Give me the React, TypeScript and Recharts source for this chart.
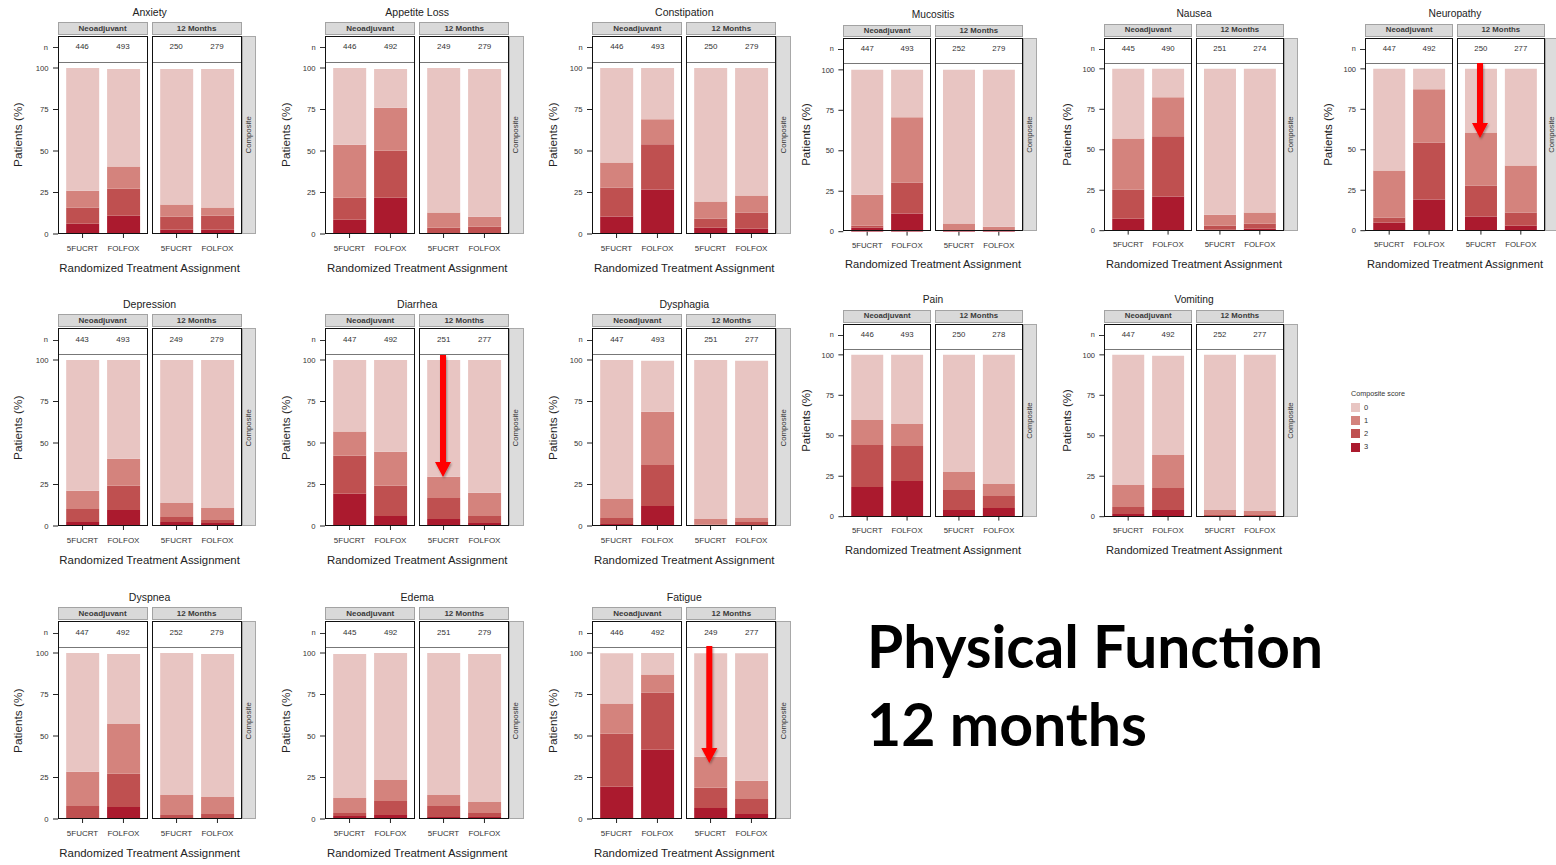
import React from "react";
import { BarChart, Bar, XAxis, YAxis } from "recharts";

const FONT = "'Liberation Sans', Arial, Helvetica, sans-serif";

const SYMPTOMS = [
  "Anxiety", "Appetite Loss", "Constipation", "Mucositis", "Nausea", "Neuropathy",
  "Depression", "Diarrhea", "Dysphagia", "Pain", "Vomiting",
  "Dyspnea", "Edema", "Fatigue",
];
const TIMEPOINTS = ["Neoadjuvant", "12 Months"];
const ARMS = ["5FUCRT", "FOLFOX"];
const SCORES = ["0", "1", "2", "3"];
const SCORE_COLORS = ["#e8c5c2", "#d4837d", "#bf5050", "#ab1a2e"];
const Y_TICKS = [0, 25, 50, 75, 100];

// every row: Neo 5FUCRT, Neo FOLFOX, 12mo 5FUCRT, 12mo FOLFOX
const N_COUNTS = [
  [446, 493, 250, 279], [446, 492, 249, 279], [446, 493, 250, 279],
  [447, 493, 252, 279], [445, 490, 251, 274], [447, 492, 250, 277],
  [443, 493, 249, 279], [447, 492, 251, 277], [447, 493, 251, 277],
  [446, 493, 250, 278], [447, 492, 252, 277],
  [447, 492, 252, 279], [445, 492, 251, 279], [446, 492, 249, 277],
];

// % of patients with composite score 3 (bottom of the stack)
const SCORE_3 = [
  [6.2, 11.0, 2.6, 2.6], [8.6, 21.9, 0.6, 0.6], [10.5, 26.8, 3.8, 3.2],
  [2.5, 11.2, 0.6, 0.6], [7.4, 21.1, 0.6, 1.2], [5.0, 19.2, 8.7, 3.1],
  [2.4, 9.7, 2.4, 1.8], [19.4, 6.0, 4.2, 1.8], [1.2, 12.1, 0.6, 0.6],
  [18.4, 22.1, 4.1, 5.4], [1.6, 4.1, 0.4, 0.4],
  [0.6, 7.2, 0.6, 0.6], [1.8, 2.4, 1.2, 1.2], [19.4, 41.7, 6.7, 3.0],
];
const SCORE_2 = [
  [9.7, 16.3, 7.8, 8.4], [13.3, 28.3, 3.2, 3.8], [17.5, 27.2, 5.5, 9.7],
  [1.2, 19.2, 0.2, 0.2], [18.0, 37.2, 2.5, 3.1], [3.1, 35.3, 19.2, 8.1],
  [7.9, 14.5, 3.0, 1.8], [22.9, 18.2, 12.7, 4.2], [3.6, 24.7, 0.2, 1.8],
  [25.9, 21.6, 12.4, 7.4], [4.4, 13.6, 0.6, 0.6],
  [7.2, 20.0, 1.8, 2.4], [1.8, 8.5, 6.6, 2.4], [32.0, 34.5, 12.1, 9.1],
];
const SCORE_1 = [
  [10.2, 13.3, 7.3, 4.9], [31.9, 25.9, 9.1, 6.0], [15.1, 15.2, 10.3, 10.3],
  [19.2, 40.3, 4.2, 2.3], [31.6, 24.1, 6.8, 6.9], [29.1, 32.9, 32.8, 29.1],
  [10.9, 16.3, 8.5, 7.3], [14.6, 20.6, 12.7, 14.0], [11.5, 32.0, 3.4, 2.4],
  [15.5, 13.6, 11.1, 7.4], [13.6, 20.4, 3.1, 2.5],
  [20.6, 30.1, 12.1, 10.3], [9.1, 12.6, 6.7, 6.7], [18.2, 10.9, 18.7, 10.9],
];
const SCORE_0 = [
  [73.9, 58.8, 81.7, 83.5], [46.2, 23.3, 87.1, 89.0], [56.9, 30.8, 80.4, 76.8],
  [77.1, 29.3, 95.0, 96.9], [43.0, 17.6, 90.1, 88.8], [62.8, 12.6, 39.3, 59.7],
  [78.8, 59.5, 86.1, 89.1], [43.1, 55.2, 70.4, 80.0], [83.7, 30.8, 95.8, 94.8],
  [40.2, 42.7, 72.4, 79.8], [80.4, 61.3, 95.9, 96.5],
  [71.6, 42.1, 85.5, 86.1], [86.7, 76.5, 85.5, 89.1], [30.2, 12.9, 62.3, 76.8],
];

// where each small multiple sits: left edge of first facet, top of strip, scale
const PANELS = [
  { x: 57.6, y: 22, s: 1 }, { x: 325.2, y: 22, s: 1 }, { x: 592.3, y: 22, s: 1 },
  { x: 843.3, y: 24.5, s: 0.975 }, { x: 1104.3, y: 24.3, s: 0.975 }, { x: 1365.3, y: 24.3, s: 0.975 },
  { x: 57.6, y: 314.3, s: 1 }, { x: 325.2, y: 314.3, s: 1 }, { x: 592.3, y: 314.3, s: 1 },
  { x: 843.3, y: 310.3, s: 0.975 }, { x: 1104.3, y: 310.3, s: 0.975 },
  { x: 57.6, y: 607.3, s: 1 }, { x: 325.2, y: 607.3, s: 1 }, { x: 592.3, y: 607.3, s: 1 },
];

// red call-out arrows (shaft top, tip)
const ARROWS = [
  { x: 1480, y1: 63, y2: 138 },
  { x: 443, y1: 355, y2: 477 },
  { x: 709.3, y1: 646, y2: 763 },
];

function Txt({ cx, cy, size, w = 220, color = "#333", bold = false, rotate = false, children }: any) {
  return (
    <div
      style={{
        position: "absolute", left: cx - w / 2, top: cy - size, width: w, height: size * 2,
        lineHeight: `${size * 2}px`, textAlign: "center", fontSize: size, fontFamily: FONT,
        fontWeight: bold ? 700 : 400, color, whiteSpace: "nowrap",
        transform: rotate ? "rotate(-90deg)" : undefined,
      }}
    >
      {children}
    </div>
  );
}

function Panel({ i, x, y, s }: { i: number; x: number; y: number; s: number }) {
  const fw = 90 * s;
  const gap = 4 * s;
  const totalW = 2 * fw + gap;
  const boxTop = y + 14 * s;
  const sepY = y + 40 * s;
  const y0 = y + 212 * s;
  const plotH = y0 - sepY;
  const yMax = (100 * plotH) / (166 * s);
  const axisW = 30 * s;
  const xAxisH = 26 * s;
  const pad = fw * 0.0455;
  const nY = y + 25.3 * s;

  return (
    <>
      <Txt cx={x + totalW / 2} cy={y - 10 * s} size={10.5 * s} color="#222">{SYMPTOMS[i]}</Txt>
      <Txt cx={x - 38.6 * s} cy={y + 113 * s} size={11.8 * s} color="#222" rotate>Patients (%)</Txt>
      <Txt cx={x + totalW / 2} cy={y + 246 * s} size={11.4 * s} color="#222">Randomized Treatment Assignment</Txt>

      {/* n row label */}
      <Txt cx={x - 11.7 * s} cy={nY} size={7.5 * s} w={20}>n</Txt>
      <div style={{ position: "absolute", left: x - 5 * s, top: nY, width: 5 * s, height: 1, background: "#333" }} />

      {TIMEPOINTS.map((tp, f) => {
        const left = x + f * (fw + gap);
        const data = ARMS.map((arm, a) => {
          const k = f * 2 + a;
          return { arm, s3: SCORE_3[i][k], s2: SCORE_2[i][k], s1: SCORE_1[i][k], s0: SCORE_0[i][k] };
        });
        return (
          <React.Fragment key={tp}>
            <div
              style={{
                position: "absolute", left, top: y, width: fw, height: 13 * s, boxSizing: "border-box",
                background: "#d9d9d9", border: "1px solid #a3a3a3", textAlign: "center",
                fontFamily: FONT, fontWeight: 700, fontSize: 8 * s, lineHeight: `${13 * s - 2}px`, color: "#3a3a3a",
              }}
            >
              {tp}
            </div>

            <div style={{ position: "absolute", left: f === 0 ? left - axisW : left, top: sepY }}>
              <BarChart
                width={fw + (f === 0 ? axisW : 0)}
                height={plotH + xAxisH}
                data={data}
                margin={{ top: 0, right: 0, bottom: 0, left: 0 }}
                barCategoryGap="10%"
              >
                <XAxis
                  dataKey="arm"
                  interval={0}
                  height={xAxisH}
                  padding={{ left: pad, right: pad }}
                  axisLine={false}
                  tickSize={4 * s}
                  tickMargin={7 * s}
                  tickLine={{ stroke: "#222" }}
                  tick={{ fontSize: 8 * s, fill: "#333", fontFamily: FONT }}
                />
                {f === 0 ? (
                  <YAxis
                    width={axisW}
                    domain={[0, yMax]}
                    ticks={Y_TICKS}
                    interval={0}
                    allowDataOverflow
                    axisLine={false}
                    tickSize={5 * s}
                    tickMargin={4.5 * s}
                    tickLine={{ stroke: "#222" }}
                    tick={{ fontSize: 7.7 * s, fill: "#333", fontFamily: FONT }}
                  />
                ) : (
                  <YAxis hide domain={[0, yMax]} allowDataOverflow />
                )}
                <Bar dataKey="s3" stackId="a" fill={SCORE_COLORS[3]} isAnimationActive={false} />
                <Bar dataKey="s2" stackId="a" fill={SCORE_COLORS[2]} isAnimationActive={false} />
                <Bar dataKey="s1" stackId="a" fill={SCORE_COLORS[1]} isAnimationActive={false} />
                <Bar dataKey="s0" stackId="a" fill={SCORE_COLORS[0]} isAnimationActive={false} />
              </BarChart>
            </div>

            {/* facet frame + n row */}
            <div style={{ position: "absolute", left, top: sepY - 0.5, width: fw, height: 1, background: "#777" }} />
            <div
              style={{
                position: "absolute", left, top: boxTop, width: fw, height: y0 - boxTop,
                boxSizing: "border-box", border: "1.4px solid #111", pointerEvents: "none",
              }}
            />
            {ARMS.map((arm, a) => (
              <Txt key={arm} cx={left + (fw * (0.6 + a)) / 2.2} cy={nY} size={8 * s} w={40}>
                {N_COUNTS[i][f * 2 + a]}
              </Txt>
            ))}
          </React.Fragment>
        );
      })}

      {/* row strip on the right */}
      <div
        style={{
          position: "absolute", left: x + totalW, top: boxTop, width: 14.5 * s, height: y0 - boxTop,
          boxSizing: "border-box", background: "#dcdcdc", border: "1px solid #a8a8a8",
        }}
      />
      <Txt cx={x + totalW + 7.25 * s} cy={(boxTop + y0) / 2} size={7.8 * s} rotate>Composite</Txt>
    </>
  );
}

export default function App() {
  return (
    <div style={{ position: "absolute", left: 0, top: 0, width: 1556, height: 865, background: "#fff", overflow: "hidden" }}>
      {PANELS.map((p, i) => (
        <Panel key={SYMPTOMS[i]} i={i} x={p.x} y={p.y} s={p.s} />
      ))}

      {/* legend */}
      <div style={{ position: "absolute", left: 1351, top: 389, fontFamily: FONT, fontSize: 7.2, color: "#333", whiteSpace: "nowrap" }}>
        Composite score
      </div>
      {SCORES.map((sc, k) => (
        <React.Fragment key={sc}>
          <div style={{ position: "absolute", left: 1351, top: 402.8 + k * 13.3, width: 9, height: 9, background: SCORE_COLORS[k] }} />
          <div style={{ position: "absolute", left: 1364, top: 402.5 + k * 13.3, fontFamily: FONT, fontSize: 7.5, lineHeight: "9px", color: "#333" }}>
            {sc}
          </div>
        </React.Fragment>
      ))}

      <svg width={1556} height={865} style={{ position: "absolute", left: 0, top: 0, pointerEvents: "none" }}>
        <defs>
          <filter id="sh" x="-50%" y="-10%" width="200%" height="130%">
            <feDropShadow dx="1" dy="1.5" stdDeviation="1.2" floodColor="#000" floodOpacity="0.35" />
          </filter>
        </defs>
        {ARROWS.map((a, k) => {
          const yb = a.y2 - 15;
          return (
            <path
              key={k}
              d={`M${a.x - 3},${a.y1} L${a.x + 3},${a.y1} L${a.x + 3},${yb} L${a.x + 8},${yb} L${a.x},${a.y2} L${a.x - 8},${yb} L${a.x - 3},${yb} Z`}
              fill="#ff0000"
              filter="url(#sh)"
            />
          );
        })}
        <text x={867} y={668} fontFamily="Lato, 'Open Sans', sans-serif" fontWeight={700} fontSize={60} textLength={456} lengthAdjust="spacingAndGlyphs" fill="#000">
          Physical Function
        </text>
        <text x={867} y={746} fontFamily="Lato, 'Open Sans', sans-serif" fontWeight={700} fontSize={60} textLength={280} lengthAdjust="spacingAndGlyphs" fill="#000">
          12 months
        </text>
      </svg>
    </div>
  );
}
